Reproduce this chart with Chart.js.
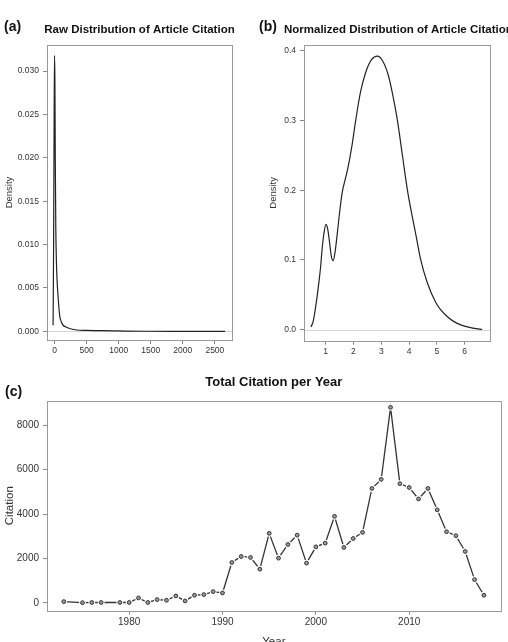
<!DOCTYPE html>
<html>
<head>
<meta charset="utf-8">
<script src="https://cdn.jsdelivr.net/npm/chart.js@4.4.0/dist/chart.umd.min.js"></script>
<style>
html, body { margin: 0; padding: 0; overflow: hidden; background: #fff; width: 508px; height: 642px; }
canvas { position: absolute; }
.tag { position: absolute; font: bold 14px 'Liberation Sans', Arial, sans-serif; line-height: 16px; color: #111; z-index: 2; }
</style>
</head>
<body>
<canvas id="rawChart" width="254" height="370" style="left:0;top:0"></canvas>
<canvas id="normChart" width="254" height="370" style="left:254px;top:0"></canvas>
<canvas id="yearChart" width="508" height="300" style="left:0;top:360px"></canvas>
<div class="tag" style="left:4px;top:18px">(a)</div>
<div class="tag" style="left:259px;top:18px">(b)</div>
<div class="tag" style="left:5px;top:383px">(c)</div>
<script>
// (a) raw citation counts, density
const rawX = [-22, -14, -6, 0, 6, 12, 20, 30, 42, 56, 70, 83, 105, 134, 180, 250, 350, 500, 700, 900, 1100, 1400, 2000, 2660];
const rawY = [0.0007, 0.010, 0.024, 0.0318, 0.029, 0.020, 0.012, 0.0080, 0.0056, 0.0040, 0.0026, 0.0017, 0.0011, 0.0007, 0.0005, 0.0003, 0.00015, 0.0001, 0.00008, 0.00006, 0.00003, 0.00001, 0.000005, 0.000002];

// (b) log-normalised citations, density
const normX = [0.47, 0.55, 0.68, 0.75, 0.82, 0.87, 0.94, 1.01, 1.07, 1.14, 1.2, 1.27, 1.34, 1.42, 1.5, 1.6, 1.7, 1.8, 1.95, 2.08, 2.25, 2.45, 2.65, 2.86, 3.05, 3.25, 3.42, 3.58, 3.76, 3.94, 4.1, 4.25, 4.42, 4.65, 4.96, 5.15, 5.37, 5.6, 5.86, 6.1, 6.34, 6.63];
const normY = [0.004, 0.012, 0.044, 0.066, 0.091, 0.115, 0.139, 0.151, 0.145, 0.125, 0.106, 0.099, 0.112, 0.139, 0.168, 0.198, 0.215, 0.232, 0.265, 0.3, 0.34, 0.37, 0.387, 0.392, 0.385, 0.365, 0.335, 0.3, 0.25, 0.2, 0.165, 0.135, 0.1, 0.068, 0.039, 0.028, 0.019, 0.012, 0.007, 0.004, 0.002, 0.0005];

// (c) total citations per year
const years = [1973, 1975, 1976, 1977, 1979, 1980, 1981, 1982, 1983, 1984, 1985, 1986, 1987, 1988, 1989, 1990, 1991, 1992, 1993, 1994, 1995, 1996, 1997, 1998, 1999, 2000, 2001, 2002, 2003, 2004, 2005, 2006, 2007, 2008, 2009, 2010, 2011, 2012, 2013, 2014, 2015, 2016, 2017, 2018];
const citations = [60, 10, 20, 20, 20, 20, 225, 20, 150, 120, 315, 90, 345, 375, 510, 450, 1820, 2090, 2045, 1520, 3130, 2015, 2630, 3050, 1790, 2525, 2690, 3895, 2495, 2900, 3175, 5150, 5560, 8800, 5365, 5195, 4680, 5150, 4190, 3205, 3025, 2315, 1050, 345];

// tick labels
const rawTicksX = [0, 500, 1000, 1500, 2000, 2500];
const rawTicksY = [0, 0.005, 0.010, 0.015, 0.020, 0.025, 0.030];
const normTicksX = [1, 2, 3, 4, 5, 6];
const normTicksY = [0, 0.1, 0.2, 0.3, 0.4];
const yearTicksX = [1980, 1990, 2000, 2010];
const yearTicksY = [0, 2000, 4000, 6000, 8000];

const FONT = "'Liberation Sans', Arial, sans-serif";
Chart.defaults.font.family = FONT;
Chart.defaults.color = '#333';

const pts = (xs, ys) => xs.map((x, i) => ({ x: x, y: ys[i] }));

// box round the plot, light zero line, and the panel title
const framePlugin = {
    id: 'frame',
    beforeDatasetsDraw(chart, args, opts) {
        const { ctx, chartArea: a, scales } = chart;
        ctx.save();
        ctx.lineWidth = 1;
        if (opts.zeroLine) {
            const y = Math.round(scales.y.getPixelForValue(0)) + 0.5;
            ctx.strokeStyle = '#d4d4d4';
            ctx.beginPath();
            ctx.moveTo(a.left, y);
            ctx.lineTo(a.right, y);
            ctx.stroke();
        }
        ctx.strokeStyle = '#9a9a9a';
        ctx.strokeRect(Math.round(a.left) + 0.5, Math.round(a.top) + 0.5,
            Math.round(a.right - a.left), Math.round(a.bottom - a.top));
        ctx.fillStyle = '#111';
        ctx.font = 'bold ' + opts.size + 'px ' + FONT;
        ctx.textAlign = 'center';
        ctx.textBaseline = 'middle';
        ctx.fillText(opts.title, (a.left + a.right) / 2 + (opts.dx || 0), a.top - opts.gap);
        ctx.restore();
    }
};

function scaleOpts(min, max, tickValues, fmt, fontSize, fixed, horizontal, title) {
    return {
        type: 'linear',
        min: min,
        max: max,
        border: { display: false },
        grid: { drawOnChartArea: false, drawTicks: true, tickLength: 4, color: '#888' },
        ticks: {
            autoSkip: false,
            maxRotation: 0,
            padding: horizontal ? 2 : 4,
            font: { size: fontSize },
            color: '#333',
            callback: fmt
        },
        afterBuildTicks: (s) => { s.ticks = tickValues.map((v) => ({ value: v })); },
        title: title,
        afterFit: horizontal ? (s) => { s.height = fixed; } : (s) => { s.width = fixed; }
    };
}

// (a)
new Chart(document.getElementById('rawChart'), {
    type: 'scatter',
    data: {
        datasets: [{
            data: pts(rawX, rawY),
            showLine: true,
            borderColor: '#222',
            borderWidth: 1.2,
            pointRadius: 0,
            cubicInterpolationMode: 'monotone'
        }]
    },
    options: {
        responsive: false,
        animation: false,
        devicePixelRatio: 1,
        layout: { padding: { top: 45, right: 22, left: 0, bottom: 0 } },
        plugins: {
            legend: { display: false },
            tooltip: { enabled: false },
            frame: { zeroLine: true, title: 'Raw Distribution of Article Citation', size: 11.5, gap: 15.5 }
        },
        scales: {
            x: scaleOpts(-117, 2767, rawTicksX, (v) => String(v), 8.5, 30, true, { display: false }),
            y: scaleOpts(-0.001, 0.033, rawTicksY, (v) => v.toFixed(3), 8.5, 47, false,
                { display: true, text: 'Density', font: { size: 9.5 }, color: '#333', padding: { top: 3.6, bottom: 0 } })
        }
    },
    plugins: [framePlugin]
});

// (b)
new Chart(document.getElementById('normChart'), {
    type: 'scatter',
    data: {
        datasets: [{
            data: pts(normX, normY),
            showLine: true,
            borderColor: '#222',
            borderWidth: 1.2,
            pointRadius: 0,
            cubicInterpolationMode: 'monotone'
        }]
    },
    options: {
        responsive: false,
        animation: false,
        devicePixelRatio: 1,
        layout: { padding: { top: 45, right: 18.3, left: 0, bottom: 0 } },
        plugins: {
            legend: { display: false },
            tooltip: { enabled: false },
            frame: { zeroLine: true, title: 'Normalized Distribution of Article Citation', size: 11.5, gap: 15.5, dx: 1.5 }
        },
        scales: {
            x: scaleOpts(0.22, 6.9, normTicksX, (v) => String(v), 8.5, 29.3, true, { display: false }),
            y: scaleOpts(-0.0157, 0.408, normTicksY, (v) => v.toFixed(1), 8.5, 50, false,
                { display: true, text: 'Density', font: { size: 9.5 }, color: '#333', padding: { top: 13.6, bottom: 0 } })
        }
    },
    plugins: [framePlugin]
});

// (c)
const yearPoints = pts(years, citations);
new Chart(document.getElementById('yearChart'), {
    type: 'scatter',
    data: {
        datasets: [
            { data: yearPoints, order: 0, showLine: false, pointRadius: 1.9, pointBorderWidth: 1,
              pointBorderColor: '#333', pointBackgroundColor: '#9a9a9a' },
            { data: yearPoints, order: 1, showLine: false, pointRadius: 3.4, pointBorderWidth: 0,
              pointBackgroundColor: '#fff', pointBorderColor: '#fff' },
            { data: yearPoints, order: 2, showLine: true, borderColor: '#333', borderWidth: 1.3,
              pointRadius: 0, tension: 0 }
        ]
    },
    options: {
        responsive: false,
        animation: false,
        devicePixelRatio: 1,
        layout: { padding: { top: 40.7, right: 7.3, left: 0, bottom: 0 } },
        plugins: {
            legend: { display: false },
            tooltip: { enabled: false },
            frame: { zeroLine: false, title: 'Total Citation per Year', size: 13, gap: 18.5 }
        },
        scales: {
            x: scaleOpts(1971.2, 2019.8, yearTicksX, (v) => String(v), 10, 49.3, true,
                { display: true, text: 'Year', font: { size: 11.5 }, color: '#333', padding: { top: 0, bottom: 11.5 } }),
            y: scaleOpts(-350, 9100, yearTicksY, (v) => String(v), 10, 47, false,
                { display: true, text: 'Citation', font: { size: 11.5 }, color: '#333', padding: { top: 3.1, bottom: 0 } })
        }
    },
    plugins: [framePlugin]
});
</script>
</body>
</html>
